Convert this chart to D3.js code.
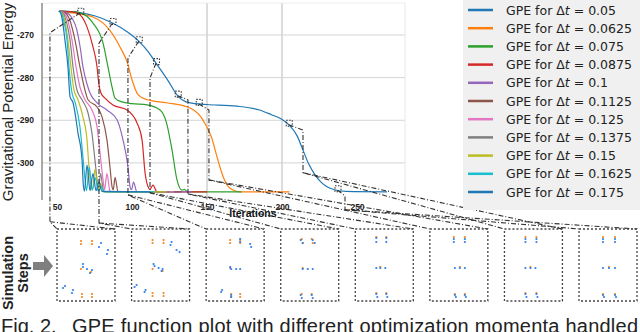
<!DOCTYPE html>
<html>
<head>
<meta charset="utf-8">
<script src="https://cdnjs.cloudflare.com/ajax/libs/d3/7.8.5/d3.min.js"></script>
<style>
  body { margin: 0; background: #fff; }
  svg { display: block; font-family: "Liberation Sans", Arial, sans-serif; }
</style>
</head>
<body>
<div id="chart-area"></div>
<script>
// time steps shown in the legend
const stepSizes = ["0.05", "0.0625", "0.075", "0.0875", "0.1", "0.1125", "0.125", "0.1375", "0.15", "0.1625", "0.175"];
const lineColors = ["#1f77b4", "#ff7f0e", "#2ca02c", "#d62728", "#9467bd", "#8c564b", "#e377c2", "#7f7f7f", "#bcbd22", "#17becf", "#1f77b4"];

// [iteration, GPE]
const gpe0050 = [[51.3,-264.4],[60,-264.5],[66,-264.8],[75,-265.5],[87,-267.2],[97,-269.3],[105,-271.6],[111,-274],[116,-276.6],[124,-280.7],[131,-284.5],[136,-285.7],[142,-286.1],[150,-286.3],[170,-286.7],[185,-287.6],[193,-288.7],[199,-289.6],[205,-291.2],[210,-293.6],[214,-297],[218,-300.4],[222,-302.8],[226,-304.5],[230,-305.6],[235,-306.3],[243,-306.7],[270,-306.8]];
const gpe0625 = [[51.3,-264.4],[62,-264.9],[74,-265.8],[85,-268.8],[92,-272.8],[97,-276.6],[100,-280.5],[104,-284],[110,-285.2],[123,-285.9],[137,-286.9],[141,-287.6],[145,-288.8],[149,-291],[153,-294],[157,-299],[160,-302.5],[163,-305],[167,-306.3],[172,-306.8],[205,-306.8]];
const gpe0750 = [[51.3,-264.4],[58,-264.5],[65.3,-264.8],[74,-267.2],[80.7,-271.9],[84,-277.5],[86.7,-282.2],[88.7,-284.8],[93.3,-285.7],[100,-286.1],[110,-286.4],[118.7,-287.6],[123,-290.6],[126.7,-297],[130,-304],[133.3,-306.4],[135,-306.2],[137,-306.8],[173,-306.8]];
const gpe0875 = [[51.3,-264.4],[57,-264.5],[63.3,-264.8],[70,-268.1],[74,-272.8],[76.7,-277.5],[77.8,-281.2],[79.3,-283.6],[82,-284.8],[87.3,-286.4],[96.7,-287.6],[103.3,-290.6],[106.7,-294.6],[108.7,-302.3],[110.7,-305.6],[112,-306.2],[114,-305.2],[116.7,-306.8],[150,-306.8]];
const gpe1000 = [[51.3,-264.4],[56,-264.7],[60,-266],[63,-268.5],[65.5,-273],[67.3,-277.5],[70,-281.5],[72,-283.6],[76.7,-285.9],[83.3,-287.6],[90,-289.9],[94,-294.6],[97.3,-300.9],[98.7,-305.6],[99.7,-306.3],[101,-304.5],[103.3,-306.8],[140,-306.8]];
const gpe1125 = [[51.3,-264.4],[55,-264.7],[58.5,-266.5],[62,-271.2],[65.3,-277.5],[68.7,-283],[70.7,-285.2],[76.7,-286.9],[80,-289.2],[83.3,-294.6],[85.3,-300.9],[86.7,-305.6],[87.5,-306.3],[88.7,-303.4],[90.7,-306.8],[133,-306.8]];
const gpe1250 = [[51.3,-264.4],[54.5,-264.8],[57.5,-267],[60,-271.2],[62.7,-277.5],[65.3,-282.2],[68.7,-285.2],[73.3,-287.6],[76.7,-291.6],[78.7,-297.7],[80.7,-304],[81.7,-306.3],[83.3,-302.5],[85.3,-306.6],[87,-306.8],[128,-306.8]];
const gpe1375 = [[51.3,-264.4],[54,-264.9],[56.5,-267.2],[58.7,-271.2],[60.7,-277.5],[63.3,-282.9],[66.7,-285.2],[70.7,-288.3],[73.3,-293],[75.3,-299.3],[76.7,-304],[77.7,-306.3],[79,-302.5],[81,-306.5],[83,-306.8],[125,-306.8]];
const gpe1500 = [[51.3,-264.4],[53.5,-264.9],[55.5,-267.2],[57.3,-271.2],[59.3,-277.5],[61.3,-282.9],[64,-285.2],[67.3,-289.2],[70,-294.6],[71.3,-300.9],[72.7,-305.6],[73.7,-306.3],[75.3,-301.5],[77.5,-306.3],[79,-304.8],[81,-306.8],[123,-306.8]];
const gpe1625 = [[51.3,-264.4],[53,-264.9],[55,-267.5],[56.7,-271.2],[58,-277.5],[60,-283.6],[62,-285.7],[65.3,-291.6],[67.3,-298.6],[68.7,-304],[69.7,-306.5],[71.5,-301],[73.5,-306.4],[75.5,-303.5],[77.5,-306.6],[79.5,-305.6],[81.5,-306.8],[115,-306.8]];
const gpe1750 = [[51.3,-264.4],[52.5,-264.9],[54,-267.5],[55.3,-271.2],[57.3,-277.5],[58.7,-284.5],[60.7,-285.9],[64,-293],[66.7,-299.3],[67.5,-305],[68.3,-306.6],[70,-300.5],[72,-306.5],[74,-302.5],[76,-306.5],[78,-304.5],[80,-306.7],[112,-306.8]];
const allSeries = [gpe0050, gpe0625, gpe0750, gpe0875, gpe1000, gpe1125, gpe1250, gpe1375, gpe1500, gpe1625, gpe1750];

const xTicks = [50, 100, 150, 200, 250];
const yTicks = [-270, -280, -290, -300];
const xGrid = [150, 200];

// iterations of the snapshots on the dt = 0.05 curve
const snapshotIters = [65.5, 87, 104.5, 116, 130.5, 144.5, 204.5, 237];
// callout bends: [iteration, energy at top of drop, energy at bottom of drop]
const calloutBends = [[45.3,-269.5,-313.8],[78,-271.9,-314.1],[97.3,-275.4,-307.5],[112,-280.1,-307.0],[137.3,-285.2,-307.3],[151.3,-287.6,-304.0],[214,-292.3,-302.3],[242,-307.7,-311.0]];

// particles in each snapshot panel (panel units 58 x 72)
const targetDots = [
  [[24,12],[24,15],[35,12],[35,15],[24,40],[34,43],[25,65],[25,68],[35,65],[35,68]],
  [[21,11],[21,14],[32,11],[32,14],[21,40],[31,42],[21,64],[21,67],[32,64],[32,67]],
  [[24,11],[24,14],[34,11],[34,14],[24,39],[25,65],[25,68],[34,65],[34,68]],
  [[21,10],[22,14],[31,10],[32,14],[22,39],[21,65],[31,65]],
  [[21,8],[31,8],[25,38],[21,64],[31,64]],
  [[24,8],[35,8],[30,38],[25,65],[35,65]],
  [[21,8],[32,8],[26,38],[21,64],[32,64]],
  [[24,8],[36,8],[30,38],[24,65],[36,65]]
];
const currentDots = [
  [[44,14],[42,18],[51,21],[50,25],[26,35],[26,38],[30,40],[35,41],[33,44],[8,57],[6,59],[16,61],[15,64]],
  [[40,13],[39,16],[45,21],[48,23],[22,35],[23,37],[27,39],[31,40],[30,42],[5,56],[3,58],[14,61],[13,63]],
  [[34,10],[34,13],[44,15],[45,18],[24,38],[25,40],[30,40],[34,40],[16,61],[15,63],[25,66],[25,68]],
  [[20,11],[22,14],[32,11],[34,14],[22,40],[27,40],[32,40],[20,66],[21,69],[31,66],[32,69]],
  [[21,9],[21,13],[31,9],[31,13],[21,39],[25,39],[30,39],[21,65],[22,68],[31,65],[32,68]],
  [[24,10],[24,13],[35,10],[35,13],[25,39],[30,39],[35,39],[25,66],[26,68],[35,66],[36,68]],
  [[21,10],[21,13],[32,10],[32,13],[21,39],[26,39],[31,39],[21,65],[22,68],[32,65],[33,68]],
  [[24,10],[24,13],[36,10],[36,13],[24,39],[30,39],[36,39],[24,66],[25,68],[36,66],[37,68]]
];

const drawChart = () => {
  const chartSize = { width: 640, height: 332 };
  const plot = { left: 42, right: 405, top: 3, bottom: 200 };
  const panelTop = 229, panelH = 72;

  const x = d3.scaleLinear().domain([40, 282]).range([plot.left, plot.right]);
  const y = d3.scaleLinear().domain([-262.5, -308.7]).range([plot.top, plot.bottom]);

  const svg = d3.select("#chart-area").append("svg")
    .attr("width", chartSize.width)
    .attr("height", chartSize.height);

  // grid
  svg.append("g").selectAll("line").data(yTicks).join("line")
    .attr("x1", plot.left).attr("x2", plot.right)
    .attr("y1", d => y(d)).attr("y2", d => y(d))
    .attr("stroke", "#d4d4d4").attr("stroke-width", 1);
  svg.append("g").selectAll("line").data(xGrid).join("line")
    .attr("x1", d => x(d)).attr("x2", d => x(d))
    .attr("y1", plot.top).attr("y2", plot.bottom)
    .attr("stroke", "#d4d4d4").attr("stroke-width", 1.6);
  svg.append("line").attr("x1", plot.left).attr("x2", plot.right)
    .attr("y1", plot.top).attr("y2", plot.top).attr("stroke", "#eeeeee");
  svg.append("line").attr("x1", plot.right).attr("x2", plot.right)
    .attr("y1", plot.top).attr("y2", plot.bottom).attr("stroke", "#e8e8e8");

  // axis title first, so the tick labels sit on top of its descenders
  svg.append("text")
    .attr("transform", "translate(13,102) rotate(-90)")
    .attr("text-anchor", "middle").attr("font-size", 15).attr("fill", "#222")
    .text("Gravitational Potential Energy");

  // axes
  const yAxis = d3.axisLeft(y).tickValues(yTicks).tickSize(0).tickPadding(8)
    .tickFormat(d => "-" + Math.abs(d));
  const gy = svg.append("g").attr("transform", `translate(${plot.left},0)`).call(yAxis);
  gy.select(".domain").attr("stroke", "#555").attr("d", `M0,${plot.top}V${plot.bottom}`);
  gy.selectAll("text").attr("font-size", 8.5).attr("font-weight", "bold")
    .attr("fill", "#222").attr("font-family", "Liberation Sans, Arial");

  const xAxis = d3.axisBottom(x).tickValues(xTicks).tickSize(0).tickPadding(4);
  const gx = svg.append("g").attr("transform", `translate(0,${plot.bottom})`).call(xAxis);
  gx.select(".domain").remove();
  gx.selectAll("text").attr("font-size", 8.5).attr("font-weight", "bold")
    .attr("fill", "#222").attr("font-family", "Liberation Sans, Arial");

  svg.append("text")
    .attr("x", 253).attr("y", 217).attr("text-anchor", "middle")
    .attr("font-size", 10.5).attr("font-weight", "bold").attr("fill", "#111")
    .text("Iterations");

  // curves
  const line = d3.line().x(d => x(d[0])).y(d => y(d[1])).curve(d3.curveMonotoneX);
  svg.append("g").selectAll("path").data(allSeries).join("path")
    .attr("d", line).attr("fill", "none")
    .attr("stroke", (d, i) => lineColors[i]).attr("stroke-width", 1.2);

  // snapshot markers on the dt = 0.05 curve
  const bis = d3.bisector(d => d[0]).left;
  const valueAt = it => {
    const i = Math.max(1, bis(gpe0050, it));
    const a = gpe0050[i - 1], b = gpe0050[i];
    return a[1] + (b[1] - a[1]) * (it - a[0]) / (b[0] - a[0]);
  };
  const marks = snapshotIters.map(it => [x(it), y(valueAt(it))]);

  const band = d3.scaleBand().domain(d3.range(snapshotIters.length))
    .range([57, 637]).paddingInner(0.2225).paddingOuter(0);
  const dash = "5,2,1,2";
  const callouts = svg.append("g").attr("fill", "none").attr("stroke", "#333").attr("stroke-width", 1.1);
  marks.forEach((m, i) => {
    const [bi, vTop, vBot] = calloutBends[i];
    const bx = x(bi);
    const pts = [m, [bx, y(vTop)], [bx, y(vBot)], [band(i), panelTop]];
    callouts.append("path").attr("d", d3.line()(pts)).attr("stroke-dasharray", dash);
    callouts.append("path").attr("d", d3.line()([[bx, y(vBot)], [band(i) + band.bandwidth(), panelTop]]))
      .attr("stroke-dasharray", dash);
    callouts.append("rect").attr("x", m[0] - 2.5).attr("y", m[1] - 4.5)
      .attr("width", 6).attr("height", 6).attr("stroke-dasharray", "1.5,1.5");
  });

  // legend
  const legend = svg.append("g");
  legend.append("rect").attr("x", 463).attr("y", -4).attr("width", 180).attr("height", 214)
    .attr("fill", "#f0f0f0");
  const rows = legend.selectAll("g.row").data(stepSizes).join("g")
    .attr("class", "row").attr("transform", (d, i) => `translate(0,${10 + i * 18.2})`);
  rows.append("line").attr("x1", 468).attr("x2", 493)
    .attr("stroke", (d, i) => lineColors[i]).attr("stroke-width", 2.5);
  const lt = rows.append("text").attr("x", 506).attr("y", 4.5)
    .attr("font-family", "DejaVu Sans").attr("font-size", 12.5).attr("fill", "#222");
  lt.append("tspan").text("GPE for Δ");
  lt.append("tspan").attr("font-style", "italic").text("t");
  lt.append("tspan").text(d => " = " + d);

  // snapshot panels
  const px = d3.scaleLinear().domain([0, 58]).range([0, band.bandwidth()]);
  const py = d3.scaleLinear().domain([0, 72]).range([0, panelH]);
  const panels = svg.append("g").selectAll("g").data(d3.range(snapshotIters.length)).join("g")
    .attr("transform", i => `translate(${band(i)},${panelTop})`);
  panels.append("rect").attr("width", band.bandwidth()).attr("height", panelH)
    .attr("fill", "none").attr("stroke", "#444").attr("stroke-width", 1.3)
    .attr("stroke-dasharray", "2,2");
  panels.selectAll("circle.t").data(i => targetDots[i]).join("circle").attr("class", "t")
    .attr("cx", d => px(d[0])).attr("cy", d => py(d[1])).attr("r", 1.1).attr("fill", "#f5821f");
  panels.selectAll("circle.c").data(i => currentDots[i]).join("circle").attr("class", "c")
    .attr("cx", d => px(d[0])).attr("cy", d => py(d[1])).attr("r", 1.1).attr("fill", "#2f7fe8");

  // simulation steps label and arrow
  const sl = svg.append("text").attr("transform", "translate(0,273) rotate(-90)")
    .attr("text-anchor", "middle").attr("font-size", 14.5).attr("font-weight", "bold").attr("fill", "#222");
  sl.append("tspan").attr("x", 0).attr("y", 13).text("Simulation");
  sl.append("tspan").attr("x", 0).attr("y", 28).text("Steps");
  svg.append("path").attr("d", "M33,262H44V255L53,266L44,277V270H33Z").attr("fill", "#7f7f7f");

  // caption (cut off at the bottom like the source)
  svg.append("text").attr("x", 1).attr("y", 333).attr("font-size", 20).attr("fill", "#222")
    .text("Fig. 2.");
  svg.append("text").attr("x", 72).attr("y", 333).attr("font-size", 20).attr("fill", "#222")
    .attr("textLength", 566).attr("lengthAdjust", "spacing")
    .text("GPE function plot with different optimization momenta handled");
};

const main = () => {
  drawChart();
};

window.onload = main;
</script>
</body>
</html>
